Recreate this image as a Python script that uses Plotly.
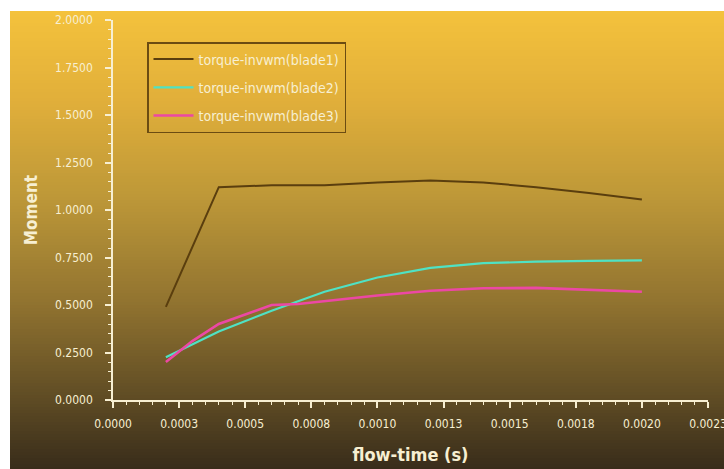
import plotly.graph_objects as go

# Torque (moment) histories of the three blades over flow time
time_b1 = [0.0002, 0.0004, 0.0006, 0.0008, 0.0010, 0.0012, 0.0014, 0.0016, 0.0018, 0.0020]
moment_b1 = [0.49, 1.12, 1.13, 1.13, 1.145, 1.155, 1.145, 1.12, 1.09, 1.055]

time_b2 = [0.0002, 0.0004, 0.0006, 0.0008, 0.0010, 0.0012, 0.0014, 0.0016, 0.0018, 0.0020]
moment_b2 = [0.225, 0.36, 0.47, 0.57, 0.645, 0.695, 0.72, 0.728, 0.732, 0.735]

time_b3 = [0.0002, 0.0003, 0.0004, 0.0005, 0.0006, 0.0007, 0.0008, 0.0010, 0.0012, 0.0014, 0.0016, 0.0018, 0.0020]
moment_b3 = [0.20, 0.31, 0.40, 0.45, 0.50, 0.505, 0.52, 0.55, 0.575, 0.588, 0.59, 0.58, 0.57]

series_names = ["torque-invwm(blade1)", "torque-invwm(blade2)", "torque-invwm(blade3)"]

x_tickvals = [0, 0.00025, 0.0005, 0.00075, 0.001, 0.00125, 0.0015, 0.00175, 0.002, 0.00225]
x_ticktext = ["0.0000", "0.0003", "0.0005", "0.0008", "0.0010", "0.0013", "0.0015", "0.0018", "0.0020", "0.0023"]
y_tickvals = [0, 0.25, 0.5, 0.75, 1.0, 1.25, 1.5, 1.75, 2.0]
y_ticktext = ["0.0000", "0.2500", "0.5000", "0.7500", "1.0000", "1.2500", "1.5000", "1.7500", "2.0000"]

FONT = "DejaVu Sans Condensed, Liberation Sans Narrow, Arial Narrow, sans-serif"
CREAM = "#f7efd2"

W, H = 724, 469
ML, MR, MT, MB = 113, 16, 20, 69
PW, PH = W - ML - MR, H - MT - MB

fig = go.Figure()
colors = ["#5a3e0e", "#4fe2c4", "#ec48a4"]
widths = [2, 2.2, 2.6]
for i, (xs, ys) in enumerate([(time_b1, moment_b1), (time_b2, moment_b2), (time_b3, moment_b3)]):
    fig.add_trace(go.Scatter(
        x=xs, y=ys, mode="lines", name=series_names[i], legendgroup=f"g{i}",
        line=dict(color=colors[i], width=widths[i]),
    ))

# Vertical yellow-to-brown backdrop drawn as thin strips behind everything
stops = [(11, (244, 194, 60)), (100, (225, 175, 58)), (200, (188, 151, 56)),
         (300, (146, 116, 48)), (400, (94, 75, 36)), (469, (56, 44, 26))]


def color_at(py):
    for (p0, c0), (p1, c1) in zip(stops[:-1], stops[1:]):
        if p0 <= py <= p1:
            t = (py - p0) / (p1 - p0)
            return "rgb(%d,%d,%d)" % tuple(round(a + (b - a) * t) for a, b in zip(c0, c1))
    return "rgb(%d,%d,%d)" % stops[-1][1]


def px_to_paper_y(py):
    return (H - MB - py) / PH


def px_to_paper_x(px):
    return (px - ML) / PW


shapes = []
step = 3
py = 11
while py < H:
    py2 = min(py + step, H)
    shapes.append(dict(
        type="rect", xref="paper", yref="paper", layer="below",
        x0=px_to_paper_x(10), x1=px_to_paper_x(W + 2),
        y0=px_to_paper_y(py2 + 0.5), y1=px_to_paper_y(py),
        fillcolor=color_at((py + py2) / 2), line=dict(width=0),
    ))
    py = py2

axis_common = dict(
    showgrid=False, zeroline=False, showline=True, linecolor=CREAM, linewidth=1.5,
    ticks="outside", tickcolor=CREAM, tickwidth=1.5, ticklen=6,
    tickfont=dict(family=FONT, size=12, color=CREAM),
    tickmode="array", ticklabeloverflow="allow",
    automargin=False,
)

fig.update_layout(
    width=W, height=H,
    margin=dict(l=ML, r=MR, t=MT, b=MB, autoexpand=False),
    paper_bgcolor="white", plot_bgcolor="rgba(0,0,0,0)",
    shapes=shapes,
    xaxis=dict(
        range=[0, 0.00225], tickvals=x_tickvals, ticktext=x_ticktext,
        minor=dict(dtick=0.00005, tick0=0, ticks="outside", ticklen=3, tickcolor=CREAM, tickwidth=1.2),
        title=dict(text="<b>flow-time (s)</b>", font=dict(family=FONT, size=18, color=CREAM), standoff=18),
        ticklabelstandoff=6,
        **axis_common,
    ),
    yaxis=dict(
        range=[0, 2.0], tickvals=y_tickvals, ticktext=y_ticktext,
        minor=dict(dtick=0.05, tick0=0, ticks="outside", ticklen=3, tickcolor=CREAM, tickwidth=1.2),
        title=dict(text="<b>Moment</b>", font=dict(family=FONT, size=17, color=CREAM), standoff=13),
        ticklabelstandoff=10,
        **axis_common,
    ),
    legend=dict(
        x=px_to_paper_x(147), y=px_to_paper_y(42), xanchor="left", yanchor="top",
        bgcolor="rgba(0,0,0,0)", bordercolor="#6b4c12", borderwidth=1.5,
        font=dict(family=FONT, size=14, color=CREAM),
        tracegroupgap=7, itemwidth=40,
    ),
    showlegend=True,
)

fig.write_html("out.html")
